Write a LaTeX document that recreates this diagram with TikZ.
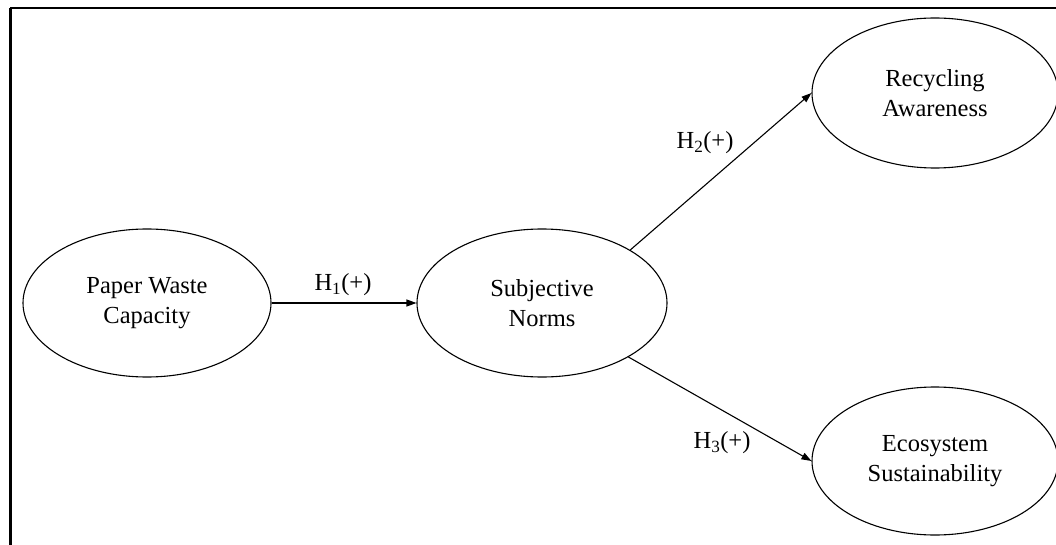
\documentclass[tikz,border=0pt]{standalone}
\usepackage{fontspec}
\setmainfont{Liberation Serif}
\usetikzlibrary{shapes.geometric,arrows.meta}
\begin{document}
\begin{tikzpicture}[x=1pt,y=-1pt,
  construct/.style={draw, ellipse, line width=1.1pt, inner sep=0pt, align=center,
    font=\fontsize{24.5}{29.5}\selectfont},
  path/.style={line width=1.1pt, -{Triangle[length=10pt,width=7pt]}},
  hyp/.style={font=\fontsize{24.5}{29.5}\selectfont, inner sep=0pt}]
\useasboundingbox (0,0) rectangle (1056,545);
\fill[white] (0,0) rectangle (1056,545);
% frame
\coordinate (ftr) at (1058,8);
\coordinate (ftl) at (10,8);
\coordinate (fbl) at (10,547);
\draw[line width=2pt] (ftr) -- (ftl);
\draw[line width=3pt] (ftl) -- (fbl);
% constructs
\node[construct, minimum width=248pt, minimum height=148pt] (pw) at (147,303) {Paper Waste\\Capacity};
\node[construct, minimum width=250pt, minimum height=148pt] (sn) at (542,303) {Subjective\\Norms};
\node[construct, minimum width=246pt, minimum height=150pt] (ra) at (935,93) {Recycling\\Awareness};
\node[construct, minimum width=246pt, minimum height=148pt] (es) at (935,461) {Ecosystem\\Sustainability};
% paths
\draw[path] (pw.east) -- (sn.west);
\draw[path] (sn.31) -- (ra.west);
\draw[path] (sn.-32) -- (es.west);
% labels
\node[hyp] (h1) at (343,285) {H\textsubscript{1}(+)};
\node[hyp] (h2) at (705,143) {H\textsubscript{2}(+)};
\node[hyp] (h3) at (722,443) {H\textsubscript{3}(+)};
\end{tikzpicture}
\end{document}
